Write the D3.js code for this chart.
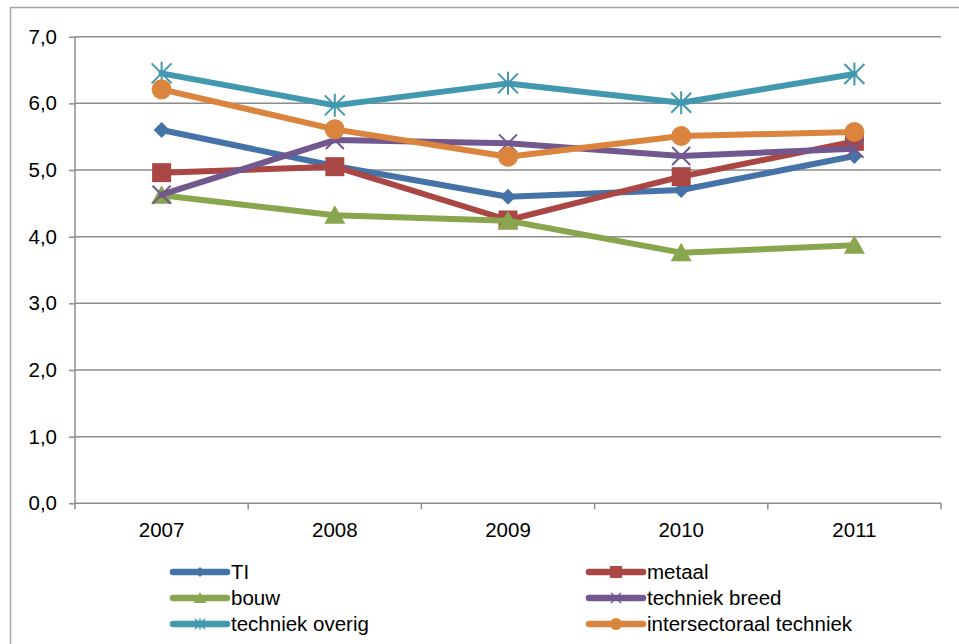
<!DOCTYPE html>
<html>
<head>
<meta charset="utf-8">
<script src="https://cdn.jsdelivr.net/npm/d3@7"></script>
<style>
html,body{margin:0;padding:0;background:#fff;}
svg{display:block;font-family:"Liberation Sans",Arial,sans-serif;}
</style>
</head>
<body>
<svg id="chart" width="959" height="644"></svg>
<script>
const years = ["2007","2008","2009","2010","2011"];
const seriesNames = ["TI","metaal","bouw","techniek breed","techniek overig","intersectoraal techniek"];
const TI = [5.60, 5.06, 4.60, 4.70, 5.21];
const metaal = [4.96, 5.05, 4.25, 4.90, 5.43];
const bouw = [4.62, 4.32, 4.24, 3.76, 3.87];
const techniekBreed = [4.63, 5.45, 5.40, 5.21, 5.32];
const techniekOverig = [6.45, 5.97, 6.30, 6.01, 6.44];
const intersectoraal = [6.21, 5.61, 5.20, 5.51, 5.57];
const yTicks = [0,1,2,3,4,5,6,7];

const colors = ["#4573A7","#AA4643","#89A54E","#71588F","#4198AF","#DB843D"];
const markers = ["diamond","square","triangle","x","star","circle"];
const values = [TI, metaal, bouw, techniekBreed, techniekOverig, intersectoraal];

const svg = d3.select("#chart");

// outer chart border
svg.append("rect").attr("x",10.5).attr("y",7.5).attr("width",1000).attr("height",1000)
  .attr("fill","none").attr("stroke","#a6a6a6").attr("stroke-width",1.5);

const x = d3.scaleBand().domain(years).range([75, 941]);
const y = d3.scaleLinear().domain([0,7]).range([503.3, 36.7]);
const cx = d => x(d) + x.bandwidth()/2;

// gridlines
svg.append("g").selectAll("line").data(yTicks.filter(d=>d>0)).join("line")
  .attr("x1",75).attr("x2",941).attr("y1",d=>y(d)).attr("y2",d=>y(d))
  .attr("stroke","#8c8c8c").attr("stroke-width",1.5);

// y axis
const yAxis = svg.append("g").attr("transform","translate(75,0)")
  .call(d3.axisLeft(y).tickValues(yTicks).tickSize(6).tickPadding(12)
    .tickFormat(d=>d.toFixed(1).replace(".",",")));
yAxis.select(".domain").attr("stroke","#8c8c8c").attr("stroke-width",1.5).attr("d","M0,"+y(7)+"V"+y(0));
yAxis.selectAll(".tick line").attr("stroke","#8c8c8c").attr("stroke-width",1.5);
yAxis.selectAll(".tick text").attr("font-size",20.5).attr("fill","#000")
  .attr("font-family","Liberation Sans, Arial, sans-serif");

// x axis
const xAxis = svg.append("g").attr("transform","translate(0,"+y(0)+")")
  .call(d3.axisBottom(x).tickSize(0).tickPadding(19));
xAxis.select(".domain").attr("stroke","#8c8c8c").attr("stroke-width",1.5).attr("d","M75,0H941");
xAxis.selectAll(".tick text").attr("font-size",20.5).attr("fill","#000")
  .attr("font-family","Liberation Sans, Arial, sans-serif");
const bounds = years.map(d=>x(d)).concat([x.range()[1]]);
xAxis.append("g").selectAll("line").data(bounds).join("line")
  .attr("x1",d=>d).attr("x2",d=>d).attr("y1",0).attr("y2",6)
  .attr("stroke","#8c8c8c").attr("stroke-width",1.5);

function markerPath(type, r){
  switch(type){
    case "diamond": return `M0,${-r}L${r},0L0,${r}L${-r},0Z`;
    case "square": return `M${-r},${-r}H${r}V${r}H${-r}Z`;
    case "triangle": return `M0,${-r}L${r*1.05},${r*0.85}L${-r*1.05},${r*0.85}Z`;
    case "circle": return d3.arc()({innerRadius:0,outerRadius:r,startAngle:0,endAngle:2*Math.PI});
    case "x": return `M${-r},${-r}L${r},${r}M${r},${-r}L${-r},${r}`;
    case "star": return `M${-r},${-r}L${r},${r}M${r},${-r}L${-r},${r}M0,${-r*1.15}V${r*1.15}`;
  }
}
const markerSize = {diamond:8, square:9.5, triangle:10, circle:10, x:9, star:10};
const legendSize = {diamond:5, square:6, triangle:6, circle:6, x:5, star:5};
const isStroke = t => t==="x" || t==="star";

const line = d3.line().x((d,i)=>cx(years[i])).y(d=>y(d));

seriesNames.forEach((name,si)=>{
  const g = svg.append("g");
  g.append("path").attr("d",line(values[si])).attr("fill","none")
    .attr("stroke",colors[si]).attr("stroke-width",6).attr("stroke-linejoin","round").attr("stroke-linecap","round");
  const t = markers[si];
  g.selectAll("path.m").data(values[si]).join("path").attr("class","m")
    .attr("transform",(d,i)=>`translate(${cx(years[i])},${y(d)})`)
    .attr("d",markerPath(t, markerSize[t]))
    .attr("fill",isStroke(t)?"none":colors[si])
    .attr("stroke",isStroke(t)?colors[si]:"none")
    .attr("stroke-width",isStroke(t)?2:0);
});

// legend
const legendX = [173, 589];
const legendY = [572, 598, 624];
seriesNames.forEach((name,si)=>{
  const lx = legendX[si%2], ly = legendY[Math.floor(si/2)];
  const g = svg.append("g").attr("transform",`translate(${lx},${ly})`);
  g.append("line").attr("x1",0).attr("x2",54).attr("y1",0).attr("y2",0)
    .attr("stroke",colors[si]).attr("stroke-width",6.5).attr("stroke-linecap","round");
  const t = markers[si];
  g.append("path").attr("transform","translate(27,0)")
    .attr("d",markerPath(t, legendSize[t]))
    .attr("fill",isStroke(t)?"none":colors[si])
    .attr("stroke",isStroke(t)?colors[si]:"none")
    .attr("stroke-width",isStroke(t)?1.5:0);
  g.append("text").attr("x",58).attr("y",0).attr("dy","0.36em")
    .attr("font-size",20.5).attr("fill","#000").text(name);
});
</script>
</body>
</html>
